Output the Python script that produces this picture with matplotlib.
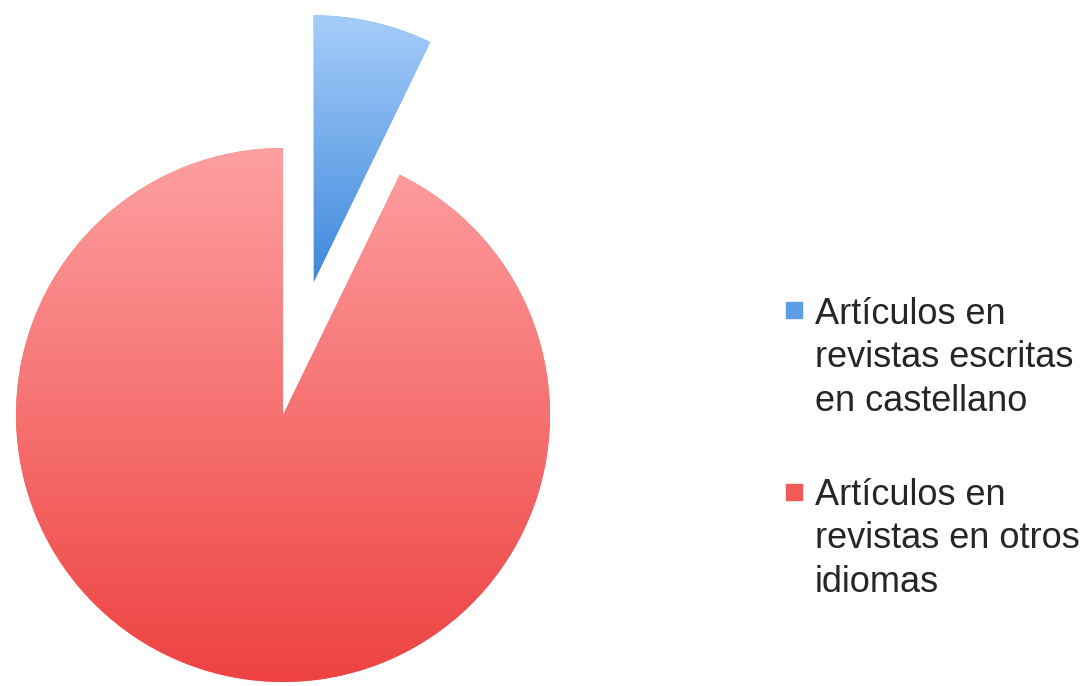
import matplotlib
matplotlib.use("Agg")
import matplotlib.pyplot as plt
import numpy as np
from matplotlib.colors import LinearSegmentedColormap

categories = ["Artículos en\nrevistas escritas\nen castellano",
              "Artículos en\nrevistas en otros\nidiomas"]
values = [7.2, 92.8]
explode = [0.51, 0.0]
top_colors = ["#a6cdf9", "#fea0a0"]
bottom_colors = ["#3f88dc", "#ee4242"]
mid_colors = ["#6aa6ea", "#f67070"]

W, H = 1080, 686
fig = plt.figure(figsize=(W / 100, H / 100), dpi=100)
ax = fig.add_axes([0, 0, 1, 1])

R = 267.0
cx, cy = 283.0, H - 415.0
wedges, _ = ax.pie(values, explode=explode, startangle=90, counterclock=False,
                   colors=mid_colors, radius=1.0, frame=True)
ax.set_aspect("equal")
ax.axis("off")

# vertical gradient fills clipped to each wedge
for w, tc, bc in zip(wedges, top_colors, bottom_colors):
    w.set_edgecolor("none")
    bb = w.get_path().get_extents(w.get_patch_transform())
    cmap = LinearSegmentedColormap.from_list("g", [bc, tc])
    grad = np.linspace(0, 1, 256).reshape(-1, 1)
    im = ax.imshow(grad, cmap=cmap, origin="lower", aspect="auto",
                   extent=(bb.x0, bb.x1, bb.y0, bb.y1), zorder=w.get_zorder() + 0.1)
    im.set_clip_path(w)

ax.set_xlim(-cx / R, (W - cx) / R)
ax.set_ylim(-cy / R, (H - cy) / R)

# legend
legend_color = ["#5d9de6", "#f25a5a"]
square_tops = [302, 484]
last_baselines = [411, 592]
for lab, col, yt, yb in zip(categories, legend_color, square_tops, last_baselines):
    fig.patches.append(plt.Rectangle((786 / W, 1 - (yt + 16) / H), 16 / W, 16 / H,
                                     transform=fig.transFigure, color=col))
    fig.text(815 / W, 1 - yb / H, lab, fontsize=26, family="Liberation Sans",
             color="#262626", va="baseline", ha="left", linespacing=1.32)

fig.savefig("out.png", dpi=100, facecolor="white")
